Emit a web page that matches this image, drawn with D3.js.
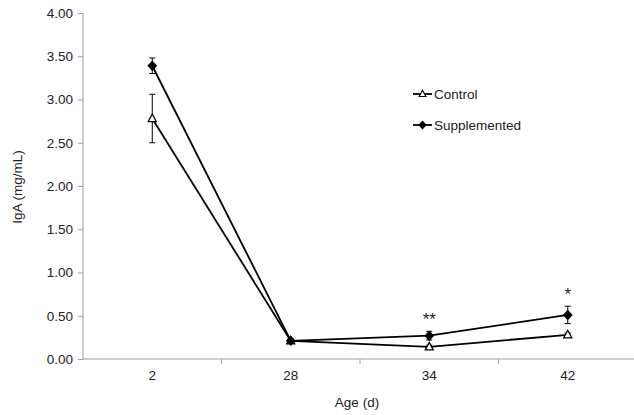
<!DOCTYPE html>
<html>
<head>
<meta charset="utf-8">
<script src="https://cdn.jsdelivr.net/npm/d3@7"></script>
<style>
body { margin: 0; background: #fff; }
text { font-family: "Liberation Sans", Arial, sans-serif; }
</style>
</head>
<body>
<svg width="634" height="415"></svg>
<script>
// data
var ages = ["2", "28", "34", "42"];
var control = [2.78, 0.21, 0.14, 0.28];
var controlErr = [0.28, 0.02, 0.02, 0.02];
var supplemented = [3.39, 0.21, 0.27, 0.51];
var supplementedErr = [0.09, 0.02, 0.05, 0.10];
var stars = ["", "", "**", "*"];
var yTicks = [0, 0.5, 1, 1.5, 2, 2.5, 3, 3.5, 4];

var fs = 13.5;
var svg = d3.select("svg");

var x = d3.scaleBand().domain(ages).range([83, 637]);
var y = d3.scaleLinear().domain([0, 4]).range([359, 13]);

// y axis
var yAxis = svg.append("g")
    .attr("transform", "translate(83,0)")
    .call(d3.axisLeft(y).tickValues(yTicks).tickSize(5).tickPadding(5)
        .tickFormat(d3.format(".2f")));
yAxis.select(".domain").attr("stroke", "#a0a0a0").attr("d", "M0,13V359");
yAxis.selectAll(".tick line").attr("stroke", "#a0a0a0");
yAxis.selectAll(".tick text").attr("font-size", fs).attr("fill", "#222")
    .attr("font-family", "Liberation Sans, Arial, sans-serif");

// x axis
var xAxis = svg.append("g")
    .attr("transform", "translate(0,359)")
    .call(d3.axisBottom(x).tickSize(0).tickPadding(11));
xAxis.select(".domain").attr("stroke", "#a0a0a0").attr("d", "M83,0H637");
xAxis.selectAll(".tick text").attr("font-size", fs).attr("fill", "#222")
    .attr("font-family", "Liberation Sans, Arial, sans-serif");
// ticks between categories
xAxis.selectAll(".sep")
    .data(ages.slice(1))
    .enter()
    .append("line")
    .attr("class", "sep")
    .attr("x1", function(d) { return x(d); })
    .attr("x2", function(d) { return x(d); })
    .attr("y1", 0)
    .attr("y2", 5)
    .attr("stroke", "#a0a0a0");

// axis titles
svg.append("text")
    .attr("transform", "translate(22,187) rotate(-90)")
    .attr("text-anchor", "middle")
    .attr("font-size", fs)
    .attr("fill", "#222")
    .text("IgA (mg/mL)");

svg.append("text")
    .attr("x", 357)
    .attr("y", 407)
    .attr("text-anchor", "middle")
    .attr("font-size", fs)
    .attr("fill", "#222")
    .text("Age (d)");

function cx(d, i) { return x(ages[i]) + x.bandwidth() / 2; }

var line = d3.line()
    .x(function(d, i) { return cx(d, i); })
    .y(function(d) { return y(d); });

function drawSeries(vals, errs, marker) {
    var g = svg.append("g");
    g.append("path")
        .datum(vals)
        .attr("d", line)
        .attr("fill", "none")
        .attr("stroke", "#000")
        .attr("stroke-width", 1.8);

    g.selectAll(".err")
        .data(vals)
        .enter()
        .append("path")
        .attr("class", "err")
        .attr("d", function(d, i) {
            var px = cx(d, i), t = y(d + errs[i]), b = y(d - errs[i]);
            return "M" + px + "," + t + "V" + b +
                "M" + (px - 3) + "," + t + "H" + (px + 3) +
                "M" + (px - 3) + "," + b + "H" + (px + 3);
        })
        .attr("stroke", "#000")
        .attr("stroke-width", 1);

    g.selectAll(".mk")
        .data(vals)
        .enter()
        .append("path")
        .attr("class", "mk")
        .attr("transform", function(d, i) { return "translate(" + cx(d, i) + "," + y(d) + ")"; })
        .attr("d", marker.d)
        .attr("fill", marker.fill)
        .attr("stroke", "#000")
        .attr("stroke-width", 1.3);
}

var triangle = { d: "M0,-4.5L4,3L-4,3Z", fill: "#fff" };
var diamond = { d: "M0,-4.3L4,0L0,4.3L-4,0Z", fill: "#000" };

drawSeries(control, controlErr, triangle);
drawSeries(supplemented, supplementedErr, diamond);

// significance marks
svg.selectAll(".star")
    .data(stars)
    .enter()
    .append("text")
    .attr("class", "star")
    .attr("x", function(d, i) { return cx(d, i); })
    .attr("y", function(d, i) { return y(supplemented[i] + supplementedErr[i]) - 6; })
    .attr("text-anchor", "middle")
    .attr("font-size", 17)
    .attr("fill", "#222")
    .text(function(d) { return d; });

// legend
var legend = svg.append("g");
var items = [{ name: "Control", m: triangle, yy: 94 }, { name: "Supplemented", m: diamond, yy: 125 }];
items.forEach(function(it) {
    legend.append("line")
        .attr("x1", 413).attr("x2", 432)
        .attr("y1", it.yy).attr("y2", it.yy)
        .attr("stroke", "#000").attr("stroke-width", 1.8);
    legend.append("path")
        .attr("transform", "translate(422.5," + it.yy + ") scale(0.85)")
        .attr("d", it.m.d)
        .attr("fill", it.m.fill)
        .attr("stroke", "#000")
        .attr("stroke-width", 1.3);
    legend.append("text")
        .attr("x", 434)
        .attr("y", it.yy + 5)
        .attr("font-size", fs)
        .attr("fill", "#222")
        .text(it.name);
});
</script>
</body>
</html>
